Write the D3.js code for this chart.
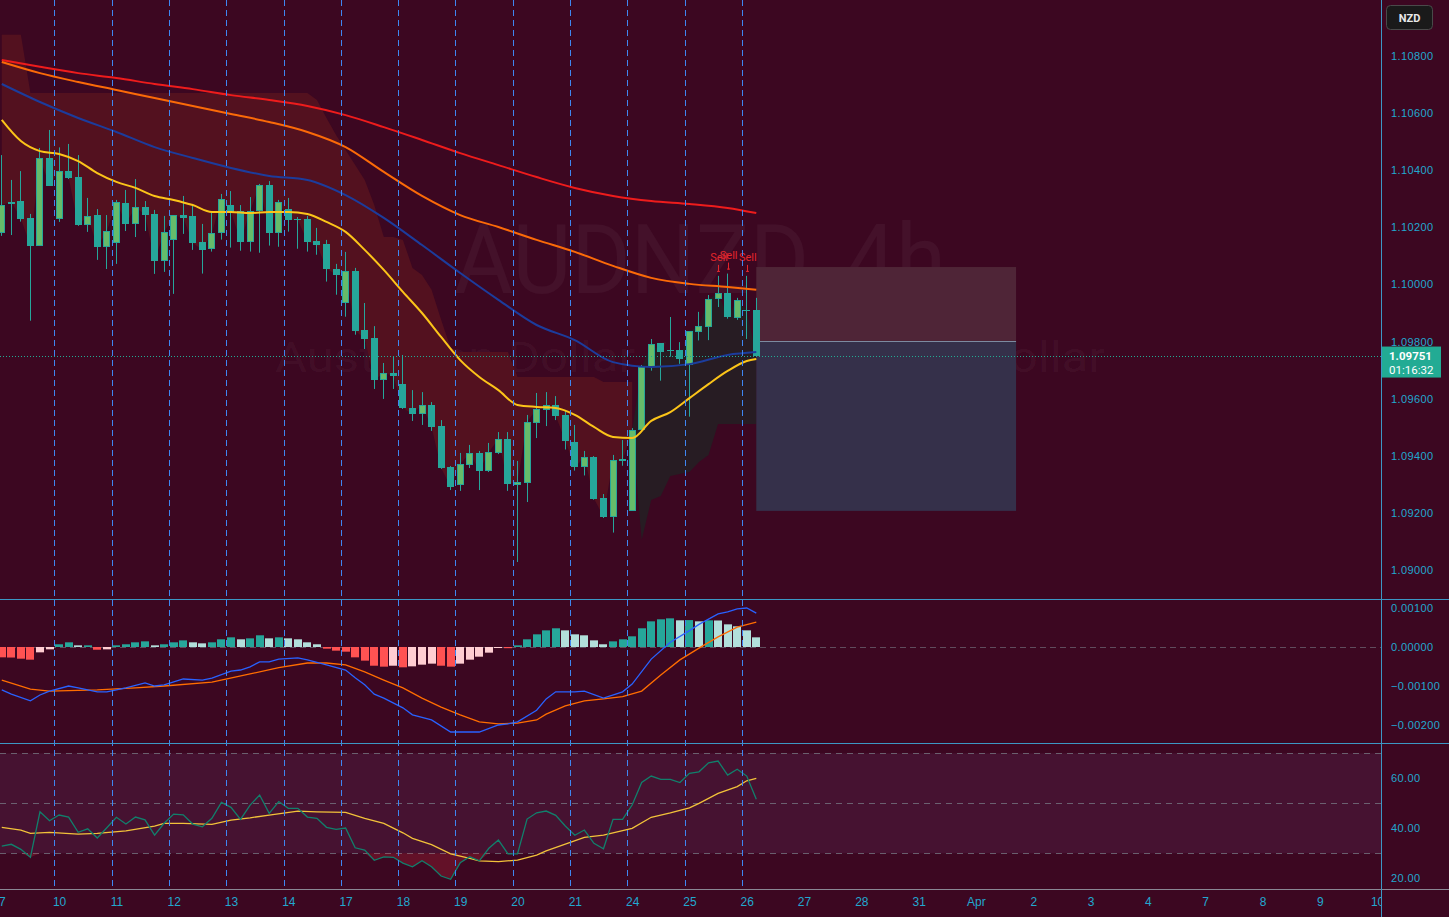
<!DOCTYPE html>
<html>
<head>
<meta charset="utf-8">
<script src="https://cdnjs.cloudflare.com/ajax/libs/d3/7.8.5/d3.min.js"></script>
<style>
  html, body { margin: 0; padding: 0; background: #3c0721; overflow: hidden; }
  svg { display: block; font-family: Roboto, 'Noto Sans', sans-serif; }
</style>
</head>
<body>
<svg id="chart-svg"></svg>
<script>
// ---- data (4h bars, index 0 = first visible bar of Fri 7) ----
const dayLabels = ['7','10','11','12','13','14','17','18','19','20','21','24','25','26','27','28','31','Apr','2','3','4','7','8','9','10']

const opens = [1.10181,1.10281,1.10292,1.10233,1.10136,1.10442,1.10228,1.10396,1.10375,1.10209,
  1.10242,1.10132,1.10146,1.10284,1.10213,1.10270,1.10247,1.10083,1.10155,1.10242,
  1.10240,1.10149,1.10125,1.10179,1.10278,1.10257,1.10150,1.10257,1.10348,1.10181,
  1.10264,1.10229,1.10229,1.10152,1.10142,1.10054,1.09936,1.10047,1.09840,1.09812,
  1.09665,1.09690,1.09651,1.09567,1.09546,1.09578,1.09504,1.09361,1.09298,1.09368,
  1.09410,1.09347,1.09410,1.09459,1.09299,1.09306,1.09516,1.09561,1.09578,1.09543,
  1.09448,1.09359,1.09396,1.09252,1.09187,1.09387,1.09208,1.09491,1.09710,1.09795,
  1.09770,1.09770,1.09719,1.09835,1.09852,1.09950,1.09970,1.09883,1.09911,1.09911]
const highs = [1.10453,1.10366,1.10397,1.10247,1.10478,1.10541,1.10480,1.10492,1.10453,1.10303,
  1.10264,1.10243,1.10296,1.10331,1.10369,1.10292,1.10261,1.10240,1.10243,1.10310,
  1.10278,1.10212,1.10257,1.10317,1.10327,1.10278,1.10306,1.10352,1.10362,1.10296,
  1.10303,1.10236,1.10240,1.10198,1.10156,1.10072,1.10114,1.10058,1.09935,1.09854,
  1.09725,1.09746,1.09753,1.09630,1.09623,1.09588,1.09525,1.09364,1.09410,1.09438,
  1.09417,1.09445,1.09483,1.09483,1.09382,1.09543,1.09620,1.09623,1.09609,1.09560,
  1.09508,1.09417,1.09399,1.09266,1.09403,1.09455,1.09497,1.09718,1.09809,1.09795,
  1.09886,1.09798,1.09837,1.09904,1.09963,1.10030,1.10038,1.09953,1.10030,1.09953]
const lows = [1.10170,1.10173,1.10220,1.09873,1.10135,1.10345,1.10219,1.10369,1.10205,1.10184,
  1.10086,1.10054,1.10072,1.10187,1.10166,1.10187,1.10037,1.10044,1.09967,1.10177,
  1.10121,1.10038,1.10115,1.10157,1.10129,1.10118,1.10115,1.10111,1.10136,1.10132,
  1.10185,1.10125,1.10115,1.10104,1.10010,1.09964,1.09887,1.09824,1.09774,1.09634,
  1.09599,1.09634,1.09564,1.09522,1.09508,1.09487,1.09354,1.09280,1.09277,1.09357,
  1.09280,1.09343,1.09406,1.09277,1.09028,1.09238,1.09462,1.09504,1.09525,1.09422,
  1.09348,1.09331,1.09246,1.09182,1.09131,1.09365,1.09207,1.09487,1.09698,1.09663,
  1.09747,1.09722,1.09537,1.09804,1.09805,1.09921,1.09880,1.09876,1.09809,1.09749]
const closes = [1.10278,1.10290,1.10230,1.10136,1.10442,1.10346,1.10396,1.10374,1.10208,1.10239,
  1.10132,1.10186,1.10288,1.10213,1.10270,1.10244,1.10083,1.10183,1.10242,1.10233,
  1.10146,1.10121,1.10180,1.10298,1.10255,1.10150,1.10257,1.10348,1.10181,1.10289,
  1.10226,1.10226,1.10150,1.10139,1.10055,1.10034,1.10047,1.09838,1.09810,1.09665,
  1.09690,1.09679,1.09567,1.09546,1.09578,1.09501,1.09357,1.09291,1.09371,1.09410,
  1.09347,1.09413,1.09459,1.09301,1.09308,1.09518,1.09564,1.09578,1.09540,1.09453,
  1.09359,1.09396,1.09250,1.09187,1.09385,1.09383,1.09490,1.09711,1.09791,1.09765,
  1.09768,1.09739,1.09837,1.09854,1.09949,1.09970,1.09887,1.09946,1.09909,1.09751]

// trailing stop: bearish part (bars 0-66) and bullish part (bars 66-79)
const stopDown = [1.10874,1.10874,1.10874,
  1.10670,1.10670,1.10670,1.10670,1.10670,1.10670,1.10670,1.10670,1.10670,1.10670,
  1.10670,1.10670,1.10670,1.10670,1.10670,1.10670,1.10670,1.10670,1.10670,1.10670,
  1.10670,1.10670,1.10670,1.10670,1.10670,1.10670,1.10670,1.10670,1.10670,1.10670,
  1.10646,1.10583,1.10523,1.10471,1.10418,1.10366,1.10278,1.10166,1.10166,1.10156,
  1.10058,1.10033,1.09981,1.09876,1.09777,
  1.09763,1.09763,1.09763,1.09763,1.09763,1.09763,
  1.09676,1.09676,1.09676,1.09676,1.09676,1.09676,1.09676,1.09676,1.09676,
  1.09658,1.09658,1.09658,1.09658]
const stopUp = [1.09490,1.09105,1.09245,1.09259,1.09329,1.09336,1.09343,1.09378,1.09403,
  1.09511,1.09511,1.09511,1.09511,1.09511]

// moving averages, [bar, price]
const maRed = [[0,1.10786],[4,1.10762],[8,1.10740],[12,1.10723],[16,1.10702],[20,1.10684],[24,1.10663],
  [28,1.10646],[32,1.10625],[36,1.10593],[40,1.10551],[44,1.10506],[48,1.10460],[52,1.10418],[56,1.10376],
  [60,1.10338],[64,1.10310],[68,1.10292],[72,1.10282],[76,1.10268],[79,1.10250]]
const maOrange = [[0,1.10779],[4,1.10740],[8,1.10709],[12,1.10681],[16,1.10653],[20,1.10625],[24,1.10597],
  [28,1.10569],[32,1.10534],[36,1.10481],[40,1.10394],[44,1.10310],[48,1.10243],[52,1.10201],[56,1.10156],
  [60,1.10114],[64,1.10065],[68,1.10023],[72,1.10002],[76,1.09991],[79,1.09981]]
const maBlue = [[0,1.10702],[4,1.10639],[8,1.10583],[12,1.10534],[16,1.10481],[20,1.10443],[24,1.10408],
  [28,1.10380],[32,1.10366],[36,1.10313],[40,1.10233],[44,1.10138],[48,1.10040],[52,1.09946],[56,1.09858],
  [60,1.09805],[64,1.09728],[68,1.09711],[72,1.09721],[76,1.09753],[79,1.09763]]
const maYellow = [[0,1.10576],[2,1.10502],[4,1.10467],[6,1.10457],[8,1.10432],[10,1.10390],[12,1.10359],
  [14,1.10338],[16,1.10310],[18,1.10296],[20,1.10278],[22,1.10254],[24,1.10254],[26,1.10250],[28,1.10254],
  [30,1.10254],[32,1.10247],[34,1.10219],[36,1.10184],[38,1.10121],[40,1.10051],[42,1.09974],[44,1.09900],
  [46,1.09816],[48,1.09735],[50,1.09676],[52,1.09630],[54,1.09578],[56,1.09571],[58,1.09567],[60,1.09543],
  [62,1.09501],[64,1.09466],[66,1.09462],[68,1.09522],[70,1.09553],[72,1.09602],[74,1.09651],[76,1.09697],
  [78,1.09732],[79,1.09739]]

const sellBars = [75, 76, 78]
const lastPrice = 1.09751
const countdown = '01:16:32'
// short position tool
const posStartBar = 79, posEndBar = 106.2
const posEntry = 1.09802, posStop = 1.10061, posTarget = 1.09207

// MACD
const macdHist = [-0.000265,-0.00027,-0.0003,-0.000325,-0.000137,-0.00006,0.00007,0.00012,0.000043,0.000043,
  -0.00007,-0.00006,0.000043,0.00007,0.00012,0.000145,0.000043,0.00007,0.00012,0.00017,
  0.00012,0.000094,0.00012,0.000197,0.000248,0.000197,0.000222,0.0003,0.000222,0.000248,
  0.000222,0.000197,0.00012,0.00007,-0.000043,-0.000094,-0.00012,-0.000265,-0.00035,-0.00048,
  -0.000504,-0.00048,-0.000521,-0.000496,-0.000453,-0.000427,-0.00048,-0.000504,-0.000427,-0.000325,
  -0.000248,-0.000145,-0.000026,-0.00003,0.000043,0.000197,0.000325,0.000427,0.00048,0.000427,
  0.000325,0.0003,0.00017,0.00007,0.000145,0.000197,0.000274,0.00048,0.000658,0.00071,
  0.000735,0.000684,0.00069,0.000658,0.000684,0.00068,0.000581,0.00053,0.000427,0.000248]
const macdLine = [[0,-0.0011],[1,-0.00121],[3,-0.00138],[4,-0.00123],[5,-0.00113],[7,-0.001],[8,-0.00105],
  [10,-0.00115],[11,-0.00115],[12,-0.0011],[13,-0.00105],[15,-0.00092],[16,-0.001],[17,-0.00097],[19,-0.00082],
  [21,-0.00085],[22,-0.0008],[24,-0.00062],[25,-0.00059],[26,-0.00051],[27,-0.00038],[28,-0.00038],[29,-0.00031],
  [31,-0.00028],[32,-0.00033],[34,-0.00046],[36,-0.00059],[37,-0.00079],[38,-0.00097],[39,-0.00121],[40,-0.00131],
  [42,-0.00156],[43,-0.00174],[45,-0.00187],[47,-0.00218],[49,-0.00218],[50,-0.00218],[52,-0.002],[53,-0.00197],
  [54,-0.00192],[56,-0.00162],[57,-0.00133],[58,-0.00115],[60,-0.00115],[61,-0.00113],[63,-0.00131],[65,-0.00115],
  [66,-0.00095],[68,-0.00031],[70,0.00012],[72,0.00042],[73,0.00058],[75,0.00085],[76,0.0009],[77,0.00098],
  [78,0.001],[79,0.00087]]
const signalLine = [[0,-0.00085],[3,-0.00108],[5,-0.00113],[10,-0.0011],[14,-0.00105],[17,-0.001],[22,-0.0009],
  [26,-0.00069],[29,-0.00053],[32,-0.00041],[34,-0.00041],[36,-0.00046],[38,-0.00064],[40,-0.00085],[42,-0.00105],
  [44,-0.00131],[46,-0.00154],[48,-0.00174],[50,-0.00192],[52,-0.00197],[54,-0.00195],[56,-0.00187],[57,-0.00172],
  [59,-0.00151],[61,-0.00138],[63,-0.00133],[65,-0.00127],[67,-0.00113],[69,-0.00072],[71,-0.00033],[73,-0.00003],
  [75,0.00026],[77,0.00051],[79,0.00064]]

// RSI
const rsi = [32.9,33.6,31.6,28.4,46.6,43.0,45.3,44.5,38.4,39.8,
  36.1,40.2,44.4,41.7,44.5,43.4,37.3,42.0,45.7,45.4,
  41.7,40.6,44.0,50.4,48.4,43.6,49.3,53.3,46.0,50.7,
  48.0,48.0,44.5,44.0,40.4,39.6,40.1,32.2,31.3,27.2,
  28.6,28.4,26.1,24.6,27.0,24.6,20.9,19.6,26.2,28.6,
  27.0,32.0,35.3,29.8,29.8,43.7,46.2,46.9,45.2,40.9,
  37.2,39.3,34.0,31.8,43.6,43.6,49.3,58.3,60.9,59.6,
  59.6,58.3,62.0,62.6,66.2,66.9,61.3,63.6,60.9,51.6]
const rsiMa = [[0,40.4],[2,39.3],[3,38.0],[5,38.4],[8,37.7],[10,38.0],[13,39.0],[16,40.9],[17,42.0],[19,42.0],
  [22,41.6],[24,43.3],[26,44.2],[28,45.3],[31,46.9],[33,46.6],[36,46.4],[38,44.0],[40,42.0],[42,38.2],
  [43,36.0],[45,33.5],[47,29.8],[49,28.0],[50,27.0],[52,26.7],[54,27.3],[56,29.3],[57,31.0],[59,33.7],
  [61,36.4],[63,37.3],[66,40.0],[68,44.4],[70,46.2],[72,48.2],[73,50.0],[75,54.0],[77,56.7],[78,59.0],[79,60.0]]

const priceTicks = [1.090, 1.092, 1.094, 1.096, 1.098, 1.100, 1.102, 1.104, 1.106, 1.108]
const macdTicks = [0.001, 0, -0.001, -0.002]
const rsiTicks = [60, 40, 20]

class TradingChart {
    constructor() {
        this.width = 1449
        this.height = 917
        this.axisX = 1381
        this.pane = {price: [0, 599], macd: [600, 743], rsi: [744, 889]}
        this.colors = {
            bg: '#3c0721', up: '#66bb6a', teal: '#26a69a', text: '#22a8d0', sep: '#3c97c4',
            session: '#3f86f2', bearFill: '#53111f', bullFill: '#271c23'
        }
        this.x = d3.scaleLinear().domain([0, 144]).range([1.77, 1377.1])
        this.yPrice = d3.scaleLinear().domain([1.090, 1.108]).range([570, 56])
        this.yMacd = d3.scaleLinear().domain([-0.002, 0.001]).range([725, 608])
        this.yRsi = d3.scaleLinear().domain([20, 70]).range([878.3, 753.3])

        this.svg = d3.select('#chart-svg')
            .attr('width', this.width)
            .attr('height', this.height)
        this.svg.append('rect')
            .attr('width', this.width)
            .attr('height', this.height)
            .attr('fill', this.colors.bg)

        const defs = this.svg.append('defs')
        for (let key in this.pane) {
            defs.append('clipPath').attr('id', 'clip-' + key)
                .append('rect')
                .attr('x', 0).attr('y', this.pane[key][0])
                .attr('width', this.axisX).attr('height', this.pane[key][1] - this.pane[key][0])
        }

        this.drawPrice()
        this.drawMacd()
        this.drawRsi()
        this.drawSessions()
        this.drawAxes()
    }

    drawPrice() {
        const x = this.x, y = this.yPrice
        const g = this.svg.append('g').attr('clip-path', 'url(#clip-price)')

        // watermark
        g.append('text')
            .attr('x', 700).attr('y', 293)
            .attr('text-anchor', 'middle')
            .attr('font-size', 96)
            .attr('textLength', 492).attr('lengthAdjust', 'spacingAndGlyphs')
            .attr('fill', 'rgba(255,255,255,0.045)')
            .text('AUDNZD, 4h')
        g.append('text')
            .attr('x', 690).attr('y', 372)
            .attr('text-anchor', 'middle')
            .attr('font-size', 42)
            .attr('textLength', 830).attr('lengthAdjust', 'spacingAndGlyphs')
            .attr('fill', 'rgba(255,255,255,0.045)')
            .text('Australian Dollar / New Zealand Dollar')

        // trailing stop fills (between stop and close)
        const down = stopDown.map((s, i) => ({i: i, s: s, c: closes[i]}))
        const up = stopUp.map((s, k) => ({i: 66 + k, s: s, c: closes[66 + k]}))
        const band = d3.area()
            .x(d => x(d.i))
            .y0(d => y(d.c))
            .y1(d => y(d.s))
        g.append('path').datum(down).attr('d', band).attr('fill', this.colors.bearFill)
        g.append('path').datum(up).attr('d', band).attr('fill', this.colors.bullFill)

        this.priceGroup = g

        // position tool
        const px0 = x(posStartBar), px1 = x(posEndBar)
        g.append('rect')
            .attr('x', px0).attr('y', y(posStop))
            .attr('width', px1 - px0).attr('height', y(posEntry) - y(posStop))
            .attr('fill', '#4f2537')
        g.append('rect')
            .attr('x', px0).attr('y', y(posEntry))
            .attr('width', px1 - px0).attr('height', y(posTarget) - y(posEntry))
            .attr('fill', '#35304a')
        g.append('line')
            .attr('x1', px0).attr('x2', px1)
            .attr('y1', Math.round(y(posEntry)) + 0.5).attr('y2', Math.round(y(posEntry)) + 0.5)
            .attr('stroke', '#7c8aa0').attr('stroke-width', 1)

        // candles
        const bars = opens.map((o, i) => ({i: i, o: o, h: highs[i], l: lows[i], c: closes[i]}))
        const cg = g.append('g')
        cg.selectAll('line')
            .data(bars)
            .join('line')
            .attr('x1', d => Math.round(x(d.i) - 3.5) + 3.5)
            .attr('x2', d => Math.round(x(d.i) - 3.5) + 3.5)
            .attr('y1', d => y(d.h))
            .attr('y2', d => y(d.l))
            .attr('stroke', this.colors.teal)
            .attr('stroke-width', 1)
        cg.selectAll('rect')
            .data(bars)
            .join('rect')
            .attr('x', d => Math.round(x(d.i) - 3.5) + (d.c > d.o ? 0.5 : 0))
            .attr('y', d => Math.round(y(Math.max(d.o, d.c))) + (d.c > d.o ? 0.5 : 0))
            .attr('width', d => d.c > d.o ? 6 : 7)
            .attr('height', d => {
                let h = Math.max(1, Math.round(y(Math.min(d.o, d.c))) - Math.round(y(Math.max(d.o, d.c))))
                return d.c > d.o ? Math.max(1, h - 1) : h
            })
            .attr('fill', d => d.c > d.o ? this.colors.up : this.colors.teal)
            .attr('stroke', d => d.c > d.o ? this.colors.teal : 'none')
            .attr('stroke-width', 1)

        // moving averages
        const ma = d3.line().x(d => x(d[0])).y(d => y(d[1])).curve(d3.curveMonotoneX)
        const maList = [[maRed, '#ee1c1c'], [maOrange, '#fb6a08'], [maBlue, '#1c3c9c'], [maYellow, '#fcc419']]
        maList.forEach(m => {
            g.append('path').datum(m[0])
                .attr('d', ma)
                .attr('fill', 'none')
                .attr('stroke', m[1])
                .attr('stroke-width', 2)
        })

        // sell signals
        sellBars.forEach(b => {
            const cx = Math.round(x(b)) + 0.5
            const hy = y(highs[b])
            g.append('line').attr('x1', cx).attr('x2', cx).attr('y1', hy - 11).attr('y2', hy - 4)
                .attr('stroke', '#e3262c').attr('stroke-width', 1)
            g.append('line').attr('x1', cx - 1.5).attr('x2', cx + 1.5).attr('y1', hy - 4.5).attr('y2', hy - 4.5)
                .attr('stroke', '#e3262c').attr('stroke-width', 1)
            g.append('text')
                .attr('x', x(b) + 1).attr('y', hy - 15)
                .attr('text-anchor', 'middle')
                .attr('font-size', 11)
                .attr('fill', '#e3262c')
                .text('Sell')
        })

        // last price line
        const ly = Math.round(y(lastPrice)) + 0.5
        this.svg.append('line')
            .attr('x1', 0).attr('x2', this.axisX)
            .attr('y1', ly).attr('y2', ly)
            .attr('stroke', '#22ab94').attr('stroke-width', 1)
            .attr('stroke-dasharray', '1,2')
    }

    drawMacd() {
        const x = this.x, y = this.yMacd
        const g = this.svg.append('g').attr('clip-path', 'url(#clip-macd)')
        const z = Math.round(y(0)) + 0.5
        g.append('line')
            .attr('x1', 0).attr('x2', this.axisX).attr('y1', z).attr('y2', z)
            .attr('stroke', '#787b86').attr('stroke-opacity', 0.6)
            .attr('stroke-dasharray', '6,4')

        const histColor = (v, i) => {
            const prev = i > 0 ? macdHist[i - 1] : v
            if (v >= 0) return v >= prev ? '#26a69a' : '#b2dfdb'
            return v <= prev ? '#ff5252' : '#ffcdd2'
        }
        g.selectAll('rect.hist')
            .data(macdHist)
            .join('rect')
            .attr('class', 'hist')
            .attr('x', (d, i) => Math.round(x(i) - 4))
            .attr('width', 8)
            .attr('y', d => d >= 0 ? y(d) : y(0))
            .attr('height', d => Math.max(1, Math.abs(y(d) - y(0))))
            .attr('fill', (d, i) => histColor(d, i))

        const line = d3.line().x(d => x(d[0])).y(d => y(d[1]))
        g.append('path').datum(signalLine).attr('d', line)
            .attr('fill', 'none').attr('stroke', '#ff6d00').attr('stroke-width', 1.3)
        g.append('path').datum(macdLine).attr('d', line)
            .attr('fill', 'none').attr('stroke', '#2962ff').attr('stroke-width', 1.3)
    }

    drawRsi() {
        const x = this.x, y = this.yRsi
        const g = this.svg.append('g').attr('clip-path', 'url(#clip-rsi)')
        g.append('rect')
            .attr('x', 0).attr('y', y(70))
            .attr('width', this.axisX).attr('height', y(30) - y(70))
            .attr('fill', '#461231')
        ;[70, 50, 30].forEach(v => {
            g.append('line')
                .attr('x1', 0).attr('x2', this.axisX)
                .attr('y1', Math.round(y(v)) + 0.5).attr('y2', Math.round(y(v)) + 0.5)
                .attr('stroke', '#787b86').attr('stroke-opacity', 0.75)
                .attr('stroke-dasharray', '6,5')
        })

        // oversold fill
        const os = d3.area()
            .x((d, i) => x(i))
            .y0(y(30))
            .y1(d => y(Math.min(d, 30)))
        g.append('path').datum(rsi).attr('d', os)
            .attr('fill', '#f23645').attr('fill-opacity', 0.22)

        g.append('path').datum(rsiMa)
            .attr('d', d3.line().x(d => x(d[0])).y(d => y(d[1])))
            .attr('fill', 'none').attr('stroke', '#f2c23a').attr('stroke-width', 1.3)
        g.append('path').datum(rsi)
            .attr('d', d3.line().x((d, i) => x(i)).y(d => y(d)))
            .attr('fill', 'none').attr('stroke', '#11806c').attr('stroke-width', 1.3)
    }

    drawSessions() {
        const breaks = dayLabels.map((d, i) => i * 6 - 0.5).filter(b => b > 0 && b < 80)
        this.svg.append('g')
            .selectAll('line')
            .data(breaks)
            .join('line')
            .attr('x1', d => Math.round(this.x(d)) + 0.5)
            .attr('x2', d => Math.round(this.x(d)) + 0.5)
            .attr('y1', 0).attr('y2', 889)
            .attr('stroke', this.colors.session)
            .attr('stroke-width', 1)
            .attr('stroke-dasharray', '6,4')
    }

    drawAxes() {
        const c = this.colors
        // pane separators and scale border
        ;[599.5, 743.5].forEach(v => {
            this.svg.append('line').attr('x1', 0).attr('x2', this.width).attr('y1', v).attr('y2', v)
                .attr('stroke', c.sep).attr('stroke-width', 1)
        })
        this.svg.append('line').attr('x1', 0).attr('x2', this.width).attr('y1', 889.5).attr('y2', 889.5)
            .attr('stroke', '#8a8794').attr('stroke-width', 1)
        this.svg.append('line').attr('x1', this.axisX + 0.5).attr('x2', this.axisX + 0.5).attr('y1', 0).attr('y2', this.height)
            .attr('stroke', c.sep).attr('stroke-width', 1)

        const styleAxis = (sel) => {
            sel.select('.domain').remove()
            sel.selectAll('text')
                .attr('fill', c.text)
                .style('font-size', '11px')
                .style('letter-spacing', '0.4px')
        }
        this.svg.append('g')
            .attr('transform', `translate(${this.axisX},0)`)
            .call(d3.axisRight(this.yPrice).tickValues(priceTicks).tickFormat(d3.format('.5f')).tickSize(0).tickPadding(10))
            .call(styleAxis)
        this.svg.append('g')
            .attr('transform', `translate(${this.axisX},0)`)
            .call(d3.axisRight(this.yMacd).tickValues(macdTicks).tickFormat(d3.format('.5f')).tickSize(0).tickPadding(10))
            .call(styleAxis)
        this.svg.append('g')
            .attr('transform', `translate(${this.axisX},0)`)
            .call(d3.axisRight(this.yRsi).tickValues(rsiTicks).tickFormat(d3.format('.2f')).tickSize(0).tickPadding(10))
            .call(styleAxis)

        // time axis
        const defs = this.svg.select('defs')
        defs.append('clipPath').attr('id', 'clip-time').append('rect')
            .attr('x', 0).attr('y', 889).attr('width', this.axisX).attr('height', 28)
        this.svg.append('g')
            .attr('clip-path', 'url(#clip-time)')
            .append('g')
            .attr('transform', 'translate(0,889)')
            .call(d3.axisBottom(this.x)
                .tickValues(dayLabels.map((d, i) => i * 6))
                .tickFormat((d, i) => dayLabels[i])
                .tickSize(0).tickPadding(8))
            .call(sel => {
                sel.select('.domain').remove()
                sel.selectAll('text').attr('fill', c.text).style('font-size', '12px')
            })

        // last price label
        const ly = this.yPrice(lastPrice)
        this.svg.append('rect')
            .attr('x', this.axisX + 1).attr('y', ly - 9)
            .attr('width', 59).attr('height', 31)
            .attr('fill', '#22ab94')
        this.svg.append('text')
            .attr('x', this.axisX + 8).attr('y', ly + 4)
            .attr('font-size', 11.5).attr('font-weight', 'bold')
            .attr('fill', '#ffffff')
            .text(d3.format('.5f')(lastPrice))
        this.svg.append('text')
            .attr('x', this.axisX + 8).attr('y', ly + 18)
            .attr('font-size', 11.5)
            .attr('fill', '#ffffff')
            .text(countdown)

        // currency badge
        this.svg.append('rect')
            .attr('x', 1386.5).attr('y', 5.5).attr('width', 46).attr('height', 24).attr('rx', 4)
            .attr('fill', '#1a1a1a').attr('stroke', '#4a4a4a')
        this.svg.append('text')
            .attr('x', 1409.5).attr('y', 21.5)
            .attr('text-anchor', 'middle')
            .attr('font-size', 11).attr('font-weight', 'bold')
            .attr('fill', '#e8e8e8')
            .text('NZD')
    }
}

new TradingChart()
</script>
</body>
</html>
